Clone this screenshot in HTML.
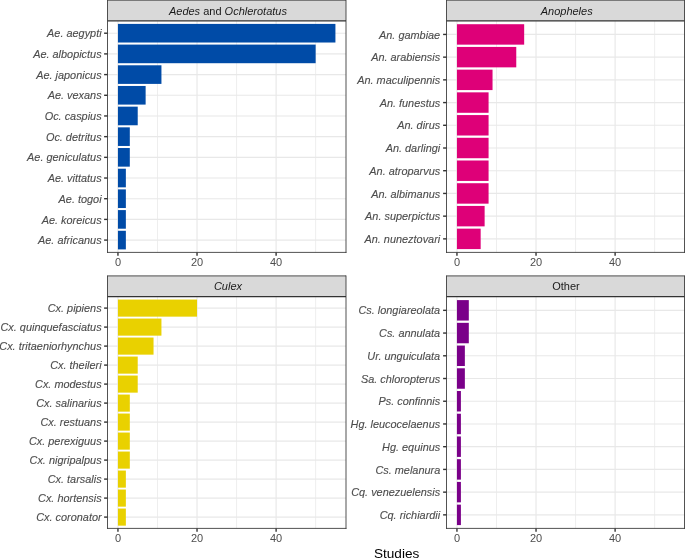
<!DOCTYPE html>
<html><head><meta charset="utf-8"><style>
html,body{margin:0;padding:0;background:#fff;overflow:hidden;}
text{stroke-width:0.12px;} svg{display:block;will-change:transform;font-family:"Liberation Sans",sans-serif;}
</style></head><body>
<svg width="685" height="558" viewBox="0 0 685 558">
<rect width="685" height="558" fill="#fff"/>
<line x1="157.49" y1="20.9" x2="157.49" y2="252.4" stroke="#E8E8E8" stroke-width="0.75"/>
<line x1="236.57" y1="20.9" x2="236.57" y2="252.4" stroke="#E8E8E8" stroke-width="0.75"/>
<line x1="315.65" y1="20.9" x2="315.65" y2="252.4" stroke="#E8E8E8" stroke-width="0.75"/>
<line x1="117.95" y1="20.9" x2="117.95" y2="252.4" stroke="#E8E8E8" stroke-width="1.15"/>
<line x1="197.03" y1="20.9" x2="197.03" y2="252.4" stroke="#E8E8E8" stroke-width="1.15"/>
<line x1="276.11" y1="20.9" x2="276.11" y2="252.4" stroke="#E8E8E8" stroke-width="1.15"/>
<line x1="107.5" y1="33.21" x2="346" y2="33.21" stroke="#E8E8E8" stroke-width="1.15"/>
<line x1="107.5" y1="53.9" x2="346" y2="53.9" stroke="#E8E8E8" stroke-width="1.15"/>
<line x1="107.5" y1="74.59" x2="346" y2="74.59" stroke="#E8E8E8" stroke-width="1.15"/>
<line x1="107.5" y1="95.28" x2="346" y2="95.28" stroke="#E8E8E8" stroke-width="1.15"/>
<line x1="107.5" y1="115.96" x2="346" y2="115.96" stroke="#E8E8E8" stroke-width="1.15"/>
<line x1="107.5" y1="136.65" x2="346" y2="136.65" stroke="#E8E8E8" stroke-width="1.15"/>
<line x1="107.5" y1="157.34" x2="346" y2="157.34" stroke="#E8E8E8" stroke-width="1.15"/>
<line x1="107.5" y1="178.03" x2="346" y2="178.03" stroke="#E8E8E8" stroke-width="1.15"/>
<line x1="107.5" y1="198.71" x2="346" y2="198.71" stroke="#E8E8E8" stroke-width="1.15"/>
<line x1="107.5" y1="219.4" x2="346" y2="219.4" stroke="#E8E8E8" stroke-width="1.15"/>
<line x1="107.5" y1="240.09" x2="346" y2="240.09" stroke="#E8E8E8" stroke-width="1.15"/>
<rect x="117.95" y="23.9" width="217.47" height="18.62" fill="#004BA7"/>
<rect x="117.95" y="44.59" width="197.7" height="18.62" fill="#004BA7"/>
<rect x="117.95" y="65.28" width="43.49" height="18.62" fill="#004BA7"/>
<rect x="117.95" y="85.97" width="27.68" height="18.62" fill="#004BA7"/>
<rect x="117.95" y="106.65" width="19.77" height="18.62" fill="#004BA7"/>
<rect x="117.95" y="127.34" width="11.86" height="18.62" fill="#004BA7"/>
<rect x="117.95" y="148.03" width="11.86" height="18.62" fill="#004BA7"/>
<rect x="117.95" y="168.72" width="7.91" height="18.62" fill="#004BA7"/>
<rect x="117.95" y="189.4" width="7.91" height="18.62" fill="#004BA7"/>
<rect x="117.95" y="210.09" width="7.91" height="18.62" fill="#004BA7"/>
<rect x="117.95" y="230.78" width="7.91" height="18.62" fill="#004BA7"/>
<rect x="107.5" y="0.2" width="238.5" height="20.7" fill="#D9D9D9"/>
<line x1="107.5" y1="0.2" x2="346" y2="0.2" stroke="#333333" stroke-width="0.85"/>
<line x1="107.5" y1="20.9" x2="346" y2="20.9" stroke="#333333" stroke-width="1.3"/>
<line x1="107.08" y1="252.4" x2="346.43" y2="252.4" stroke="#333333" stroke-width="0.85"/>
<line x1="107.5" y1="-0.22" x2="107.5" y2="252.83" stroke="#333333" stroke-width="0.85"/>
<line x1="346" y1="-0.22" x2="346" y2="252.83" stroke="#333333" stroke-width="0.85"/>
<text x="227.95" y="14.6" text-anchor="middle" fill="#1A1A1A" font-size="11"><tspan font-style="italic">Aedes</tspan> and <tspan font-style="italic">Ochlerotatus</tspan></text>
<line x1="104.1" y1="33.21" x2="107.5" y2="33.21" stroke="#333333" stroke-width="1.4"/>
<text x="101.6" y="37.36" text-anchor="end" fill="#4D4D4D" stroke="#4D4D4D" font-size="10.9" font-style="italic">Ae. aegypti</text>
<line x1="104.1" y1="53.9" x2="107.5" y2="53.9" stroke="#333333" stroke-width="1.4"/>
<text x="101.6" y="58.05" text-anchor="end" fill="#4D4D4D" stroke="#4D4D4D" font-size="10.9" font-style="italic">Ae. albopictus</text>
<line x1="104.1" y1="74.59" x2="107.5" y2="74.59" stroke="#333333" stroke-width="1.4"/>
<text x="101.6" y="78.74" text-anchor="end" fill="#4D4D4D" stroke="#4D4D4D" font-size="10.9" font-style="italic">Ae. japonicus</text>
<line x1="104.1" y1="95.28" x2="107.5" y2="95.28" stroke="#333333" stroke-width="1.4"/>
<text x="101.6" y="99.43" text-anchor="end" fill="#4D4D4D" stroke="#4D4D4D" font-size="10.9" font-style="italic">Ae. vexans</text>
<line x1="104.1" y1="115.96" x2="107.5" y2="115.96" stroke="#333333" stroke-width="1.4"/>
<text x="101.6" y="120.11" text-anchor="end" fill="#4D4D4D" stroke="#4D4D4D" font-size="10.9" font-style="italic">Oc. caspius</text>
<line x1="104.1" y1="136.65" x2="107.5" y2="136.65" stroke="#333333" stroke-width="1.4"/>
<text x="101.6" y="140.8" text-anchor="end" fill="#4D4D4D" stroke="#4D4D4D" font-size="10.9" font-style="italic">Oc. detritus</text>
<line x1="104.1" y1="157.34" x2="107.5" y2="157.34" stroke="#333333" stroke-width="1.4"/>
<text x="101.6" y="161.49" text-anchor="end" fill="#4D4D4D" stroke="#4D4D4D" font-size="10.9" font-style="italic">Ae. geniculatus</text>
<line x1="104.1" y1="178.03" x2="107.5" y2="178.03" stroke="#333333" stroke-width="1.4"/>
<text x="101.6" y="182.18" text-anchor="end" fill="#4D4D4D" stroke="#4D4D4D" font-size="10.9" font-style="italic">Ae. vittatus</text>
<line x1="104.1" y1="198.71" x2="107.5" y2="198.71" stroke="#333333" stroke-width="1.4"/>
<text x="101.6" y="202.86" text-anchor="end" fill="#4D4D4D" stroke="#4D4D4D" font-size="10.9" font-style="italic">Ae. togoi</text>
<line x1="104.1" y1="219.4" x2="107.5" y2="219.4" stroke="#333333" stroke-width="1.4"/>
<text x="101.6" y="223.55" text-anchor="end" fill="#4D4D4D" stroke="#4D4D4D" font-size="10.9" font-style="italic">Ae. koreicus</text>
<line x1="104.1" y1="240.09" x2="107.5" y2="240.09" stroke="#333333" stroke-width="1.4"/>
<text x="101.6" y="244.24" text-anchor="end" fill="#4D4D4D" stroke="#4D4D4D" font-size="10.9" font-style="italic">Ae. africanus</text>
<line x1="117.95" y1="252.4" x2="117.95" y2="255.8" stroke="#333333" stroke-width="1.4"/>
<text x="117.95" y="266.45" text-anchor="middle" fill="#4D4D4D" font-size="11">0</text>
<line x1="197.03" y1="252.4" x2="197.03" y2="255.8" stroke="#333333" stroke-width="1.4"/>
<text x="197.03" y="266.45" text-anchor="middle" fill="#4D4D4D" font-size="11">20</text>
<line x1="276.11" y1="252.4" x2="276.11" y2="255.8" stroke="#333333" stroke-width="1.4"/>
<text x="276.11" y="266.45" text-anchor="middle" fill="#4D4D4D" font-size="11">40</text>
<line x1="496.49" y1="20.9" x2="496.49" y2="252.4" stroke="#E8E8E8" stroke-width="0.75"/>
<line x1="575.57" y1="20.9" x2="575.57" y2="252.4" stroke="#E8E8E8" stroke-width="0.75"/>
<line x1="654.65" y1="20.9" x2="654.65" y2="252.4" stroke="#E8E8E8" stroke-width="0.75"/>
<line x1="456.95" y1="20.9" x2="456.95" y2="252.4" stroke="#E8E8E8" stroke-width="1.15"/>
<line x1="536.03" y1="20.9" x2="536.03" y2="252.4" stroke="#E8E8E8" stroke-width="1.15"/>
<line x1="615.11" y1="20.9" x2="615.11" y2="252.4" stroke="#E8E8E8" stroke-width="1.15"/>
<line x1="446.5" y1="34.43" x2="684.5" y2="34.43" stroke="#E8E8E8" stroke-width="1.15"/>
<line x1="446.5" y1="57.15" x2="684.5" y2="57.15" stroke="#E8E8E8" stroke-width="1.15"/>
<line x1="446.5" y1="79.86" x2="684.5" y2="79.86" stroke="#E8E8E8" stroke-width="1.15"/>
<line x1="446.5" y1="102.58" x2="684.5" y2="102.58" stroke="#E8E8E8" stroke-width="1.15"/>
<line x1="446.5" y1="125.29" x2="684.5" y2="125.29" stroke="#E8E8E8" stroke-width="1.15"/>
<line x1="446.5" y1="148.01" x2="684.5" y2="148.01" stroke="#E8E8E8" stroke-width="1.15"/>
<line x1="446.5" y1="170.72" x2="684.5" y2="170.72" stroke="#E8E8E8" stroke-width="1.15"/>
<line x1="446.5" y1="193.44" x2="684.5" y2="193.44" stroke="#E8E8E8" stroke-width="1.15"/>
<line x1="446.5" y1="216.15" x2="684.5" y2="216.15" stroke="#E8E8E8" stroke-width="1.15"/>
<line x1="446.5" y1="238.87" x2="684.5" y2="238.87" stroke="#E8E8E8" stroke-width="1.15"/>
<rect x="456.95" y="24.21" width="67.22" height="20.44" fill="#DE0078"/>
<rect x="456.95" y="46.92" width="59.31" height="20.44" fill="#DE0078"/>
<rect x="456.95" y="69.64" width="35.59" height="20.44" fill="#DE0078"/>
<rect x="456.95" y="92.35" width="31.63" height="20.44" fill="#DE0078"/>
<rect x="456.95" y="115.07" width="31.63" height="20.44" fill="#DE0078"/>
<rect x="456.95" y="137.79" width="31.63" height="20.44" fill="#DE0078"/>
<rect x="456.95" y="160.5" width="31.63" height="20.44" fill="#DE0078"/>
<rect x="456.95" y="183.22" width="31.63" height="20.44" fill="#DE0078"/>
<rect x="456.95" y="205.93" width="27.68" height="20.44" fill="#DE0078"/>
<rect x="456.95" y="228.65" width="23.72" height="20.44" fill="#DE0078"/>
<rect x="446.5" y="0.2" width="238" height="20.7" fill="#D9D9D9"/>
<line x1="446.5" y1="0.2" x2="684.5" y2="0.2" stroke="#333333" stroke-width="0.85"/>
<line x1="446.5" y1="20.9" x2="684.5" y2="20.9" stroke="#333333" stroke-width="1.3"/>
<line x1="446.07" y1="252.4" x2="684.92" y2="252.4" stroke="#333333" stroke-width="0.85"/>
<line x1="446.5" y1="-0.22" x2="446.5" y2="252.83" stroke="#333333" stroke-width="0.85"/>
<line x1="684.5" y1="-0.22" x2="684.5" y2="252.83" stroke="#333333" stroke-width="0.85"/>
<text x="566.7" y="14.6" text-anchor="middle" fill="#1A1A1A" font-size="11"><tspan font-style="italic">Anopheles</tspan></text>
<line x1="443.1" y1="34.43" x2="446.5" y2="34.43" stroke="#333333" stroke-width="1.4"/>
<text x="440.2" y="38.58" text-anchor="end" fill="#4D4D4D" stroke="#4D4D4D" font-size="10.9" font-style="italic">An. gambiae</text>
<line x1="443.1" y1="57.15" x2="446.5" y2="57.15" stroke="#333333" stroke-width="1.4"/>
<text x="440.2" y="61.3" text-anchor="end" fill="#4D4D4D" stroke="#4D4D4D" font-size="10.9" font-style="italic">An. arabiensis</text>
<line x1="443.1" y1="79.86" x2="446.5" y2="79.86" stroke="#333333" stroke-width="1.4"/>
<text x="440.2" y="84.01" text-anchor="end" fill="#4D4D4D" stroke="#4D4D4D" font-size="10.9" font-style="italic">An. maculipennis</text>
<line x1="443.1" y1="102.58" x2="446.5" y2="102.58" stroke="#333333" stroke-width="1.4"/>
<text x="440.2" y="106.73" text-anchor="end" fill="#4D4D4D" stroke="#4D4D4D" font-size="10.9" font-style="italic">An. funestus</text>
<line x1="443.1" y1="125.29" x2="446.5" y2="125.29" stroke="#333333" stroke-width="1.4"/>
<text x="440.2" y="129.44" text-anchor="end" fill="#4D4D4D" stroke="#4D4D4D" font-size="10.9" font-style="italic">An. dirus</text>
<line x1="443.1" y1="148.01" x2="446.5" y2="148.01" stroke="#333333" stroke-width="1.4"/>
<text x="440.2" y="152.16" text-anchor="end" fill="#4D4D4D" stroke="#4D4D4D" font-size="10.9" font-style="italic">An. darlingi</text>
<line x1="443.1" y1="170.72" x2="446.5" y2="170.72" stroke="#333333" stroke-width="1.4"/>
<text x="440.2" y="174.87" text-anchor="end" fill="#4D4D4D" stroke="#4D4D4D" font-size="10.9" font-style="italic">An. atroparvus</text>
<line x1="443.1" y1="193.44" x2="446.5" y2="193.44" stroke="#333333" stroke-width="1.4"/>
<text x="440.2" y="197.59" text-anchor="end" fill="#4D4D4D" stroke="#4D4D4D" font-size="10.9" font-style="italic">An. albimanus</text>
<line x1="443.1" y1="216.15" x2="446.5" y2="216.15" stroke="#333333" stroke-width="1.4"/>
<text x="440.2" y="220.3" text-anchor="end" fill="#4D4D4D" stroke="#4D4D4D" font-size="10.9" font-style="italic">An. superpictus</text>
<line x1="443.1" y1="238.87" x2="446.5" y2="238.87" stroke="#333333" stroke-width="1.4"/>
<text x="440.2" y="243.02" text-anchor="end" fill="#4D4D4D" stroke="#4D4D4D" font-size="10.9" font-style="italic">An. nuneztovari</text>
<line x1="456.95" y1="252.4" x2="456.95" y2="255.8" stroke="#333333" stroke-width="1.4"/>
<text x="456.95" y="266.45" text-anchor="middle" fill="#4D4D4D" font-size="11">0</text>
<line x1="536.03" y1="252.4" x2="536.03" y2="255.8" stroke="#333333" stroke-width="1.4"/>
<text x="536.03" y="266.45" text-anchor="middle" fill="#4D4D4D" font-size="11">20</text>
<line x1="615.11" y1="252.4" x2="615.11" y2="255.8" stroke="#333333" stroke-width="1.4"/>
<text x="615.11" y="266.45" text-anchor="middle" fill="#4D4D4D" font-size="11">40</text>
<line x1="157.49" y1="296.7" x2="157.49" y2="528.4" stroke="#E8E8E8" stroke-width="0.75"/>
<line x1="236.57" y1="296.7" x2="236.57" y2="528.4" stroke="#E8E8E8" stroke-width="0.75"/>
<line x1="315.65" y1="296.7" x2="315.65" y2="528.4" stroke="#E8E8E8" stroke-width="0.75"/>
<line x1="117.95" y1="296.7" x2="117.95" y2="528.4" stroke="#E8E8E8" stroke-width="1.15"/>
<line x1="197.03" y1="296.7" x2="197.03" y2="528.4" stroke="#E8E8E8" stroke-width="1.15"/>
<line x1="276.11" y1="296.7" x2="276.11" y2="528.4" stroke="#E8E8E8" stroke-width="1.15"/>
<line x1="107.5" y1="308.1" x2="346" y2="308.1" stroke="#E8E8E8" stroke-width="1.15"/>
<line x1="107.5" y1="327.1" x2="346" y2="327.1" stroke="#E8E8E8" stroke-width="1.15"/>
<line x1="107.5" y1="346.1" x2="346" y2="346.1" stroke="#E8E8E8" stroke-width="1.15"/>
<line x1="107.5" y1="365.1" x2="346" y2="365.1" stroke="#E8E8E8" stroke-width="1.15"/>
<line x1="107.5" y1="384.1" x2="346" y2="384.1" stroke="#E8E8E8" stroke-width="1.15"/>
<line x1="107.5" y1="403.1" x2="346" y2="403.1" stroke="#E8E8E8" stroke-width="1.15"/>
<line x1="107.5" y1="422.1" x2="346" y2="422.1" stroke="#E8E8E8" stroke-width="1.15"/>
<line x1="107.5" y1="441.1" x2="346" y2="441.1" stroke="#E8E8E8" stroke-width="1.15"/>
<line x1="107.5" y1="460.1" x2="346" y2="460.1" stroke="#E8E8E8" stroke-width="1.15"/>
<line x1="107.5" y1="479.1" x2="346" y2="479.1" stroke="#E8E8E8" stroke-width="1.15"/>
<line x1="107.5" y1="498.1" x2="346" y2="498.1" stroke="#E8E8E8" stroke-width="1.15"/>
<line x1="107.5" y1="517.1" x2="346" y2="517.1" stroke="#E8E8E8" stroke-width="1.15"/>
<rect x="117.95" y="299.55" width="79.08" height="17.1" fill="#E9D100"/>
<rect x="117.95" y="318.55" width="43.49" height="17.1" fill="#E9D100"/>
<rect x="117.95" y="337.55" width="35.59" height="17.1" fill="#E9D100"/>
<rect x="117.95" y="356.55" width="19.77" height="17.1" fill="#E9D100"/>
<rect x="117.95" y="375.55" width="19.77" height="17.1" fill="#E9D100"/>
<rect x="117.95" y="394.55" width="11.86" height="17.1" fill="#E9D100"/>
<rect x="117.95" y="413.55" width="11.86" height="17.1" fill="#E9D100"/>
<rect x="117.95" y="432.55" width="11.86" height="17.1" fill="#E9D100"/>
<rect x="117.95" y="451.55" width="11.86" height="17.1" fill="#E9D100"/>
<rect x="117.95" y="470.55" width="7.91" height="17.1" fill="#E9D100"/>
<rect x="117.95" y="489.55" width="7.91" height="17.1" fill="#E9D100"/>
<rect x="117.95" y="508.55" width="7.91" height="17.1" fill="#E9D100"/>
<rect x="107.5" y="275.9" width="238.5" height="20.8" fill="#D9D9D9"/>
<line x1="107.5" y1="275.9" x2="346" y2="275.9" stroke="#333333" stroke-width="0.85"/>
<line x1="107.5" y1="296.7" x2="346" y2="296.7" stroke="#333333" stroke-width="1.3"/>
<line x1="107.08" y1="528.4" x2="346.43" y2="528.4" stroke="#333333" stroke-width="0.85"/>
<line x1="107.5" y1="275.47" x2="107.5" y2="528.82" stroke="#333333" stroke-width="0.85"/>
<line x1="346" y1="275.47" x2="346" y2="528.82" stroke="#333333" stroke-width="0.85"/>
<text x="227.95" y="290.1" text-anchor="middle" fill="#1A1A1A" font-size="11"><tspan font-style="italic">Culex</tspan></text>
<line x1="104.1" y1="308.1" x2="107.5" y2="308.1" stroke="#333333" stroke-width="1.4"/>
<text x="101.6" y="312.25" text-anchor="end" fill="#4D4D4D" stroke="#4D4D4D" font-size="10.9" font-style="italic">Cx. pipiens</text>
<line x1="104.1" y1="327.1" x2="107.5" y2="327.1" stroke="#333333" stroke-width="1.4"/>
<text x="101.6" y="331.25" text-anchor="end" fill="#4D4D4D" stroke="#4D4D4D" font-size="10.9" font-style="italic">Cx. quinquefasciatus</text>
<line x1="104.1" y1="346.1" x2="107.5" y2="346.1" stroke="#333333" stroke-width="1.4"/>
<text x="101.6" y="350.25" text-anchor="end" fill="#4D4D4D" stroke="#4D4D4D" font-size="10.9" font-style="italic">Cx. tritaeniorhynchus</text>
<line x1="104.1" y1="365.1" x2="107.5" y2="365.1" stroke="#333333" stroke-width="1.4"/>
<text x="101.6" y="369.25" text-anchor="end" fill="#4D4D4D" stroke="#4D4D4D" font-size="10.9" font-style="italic">Cx. theileri</text>
<line x1="104.1" y1="384.1" x2="107.5" y2="384.1" stroke="#333333" stroke-width="1.4"/>
<text x="101.6" y="388.25" text-anchor="end" fill="#4D4D4D" stroke="#4D4D4D" font-size="10.9" font-style="italic">Cx. modestus</text>
<line x1="104.1" y1="403.1" x2="107.5" y2="403.1" stroke="#333333" stroke-width="1.4"/>
<text x="101.6" y="407.25" text-anchor="end" fill="#4D4D4D" stroke="#4D4D4D" font-size="10.9" font-style="italic">Cx. salinarius</text>
<line x1="104.1" y1="422.1" x2="107.5" y2="422.1" stroke="#333333" stroke-width="1.4"/>
<text x="101.6" y="426.25" text-anchor="end" fill="#4D4D4D" stroke="#4D4D4D" font-size="10.9" font-style="italic">Cx. restuans</text>
<line x1="104.1" y1="441.1" x2="107.5" y2="441.1" stroke="#333333" stroke-width="1.4"/>
<text x="101.6" y="445.25" text-anchor="end" fill="#4D4D4D" stroke="#4D4D4D" font-size="10.9" font-style="italic">Cx. perexiguus</text>
<line x1="104.1" y1="460.1" x2="107.5" y2="460.1" stroke="#333333" stroke-width="1.4"/>
<text x="101.6" y="464.25" text-anchor="end" fill="#4D4D4D" stroke="#4D4D4D" font-size="10.9" font-style="italic">Cx. nigripalpus</text>
<line x1="104.1" y1="479.1" x2="107.5" y2="479.1" stroke="#333333" stroke-width="1.4"/>
<text x="101.6" y="483.25" text-anchor="end" fill="#4D4D4D" stroke="#4D4D4D" font-size="10.9" font-style="italic">Cx. tarsalis</text>
<line x1="104.1" y1="498.1" x2="107.5" y2="498.1" stroke="#333333" stroke-width="1.4"/>
<text x="101.6" y="502.25" text-anchor="end" fill="#4D4D4D" stroke="#4D4D4D" font-size="10.9" font-style="italic">Cx. hortensis</text>
<line x1="104.1" y1="517.1" x2="107.5" y2="517.1" stroke="#333333" stroke-width="1.4"/>
<text x="101.6" y="521.25" text-anchor="end" fill="#4D4D4D" stroke="#4D4D4D" font-size="10.9" font-style="italic">Cx. coronator</text>
<line x1="117.95" y1="528.4" x2="117.95" y2="531.8" stroke="#333333" stroke-width="1.4"/>
<text x="117.95" y="542.1" text-anchor="middle" fill="#4D4D4D" font-size="11">0</text>
<line x1="197.03" y1="528.4" x2="197.03" y2="531.8" stroke="#333333" stroke-width="1.4"/>
<text x="197.03" y="542.1" text-anchor="middle" fill="#4D4D4D" font-size="11">20</text>
<line x1="276.11" y1="528.4" x2="276.11" y2="531.8" stroke="#333333" stroke-width="1.4"/>
<text x="276.11" y="542.1" text-anchor="middle" fill="#4D4D4D" font-size="11">40</text>
<line x1="496.49" y1="296.7" x2="496.49" y2="528.4" stroke="#E8E8E8" stroke-width="0.75"/>
<line x1="575.57" y1="296.7" x2="575.57" y2="528.4" stroke="#E8E8E8" stroke-width="0.75"/>
<line x1="654.65" y1="296.7" x2="654.65" y2="528.4" stroke="#E8E8E8" stroke-width="0.75"/>
<line x1="456.95" y1="296.7" x2="456.95" y2="528.4" stroke="#E8E8E8" stroke-width="1.15"/>
<line x1="536.03" y1="296.7" x2="536.03" y2="528.4" stroke="#E8E8E8" stroke-width="1.15"/>
<line x1="615.11" y1="296.7" x2="615.11" y2="528.4" stroke="#E8E8E8" stroke-width="1.15"/>
<line x1="446.5" y1="310.34" x2="684.5" y2="310.34" stroke="#E8E8E8" stroke-width="1.15"/>
<line x1="446.5" y1="333.06" x2="684.5" y2="333.06" stroke="#E8E8E8" stroke-width="1.15"/>
<line x1="446.5" y1="355.79" x2="684.5" y2="355.79" stroke="#E8E8E8" stroke-width="1.15"/>
<line x1="446.5" y1="378.51" x2="684.5" y2="378.51" stroke="#E8E8E8" stroke-width="1.15"/>
<line x1="446.5" y1="401.24" x2="684.5" y2="401.24" stroke="#E8E8E8" stroke-width="1.15"/>
<line x1="446.5" y1="423.96" x2="684.5" y2="423.96" stroke="#E8E8E8" stroke-width="1.15"/>
<line x1="446.5" y1="446.69" x2="684.5" y2="446.69" stroke="#E8E8E8" stroke-width="1.15"/>
<line x1="446.5" y1="469.41" x2="684.5" y2="469.41" stroke="#E8E8E8" stroke-width="1.15"/>
<line x1="446.5" y1="492.14" x2="684.5" y2="492.14" stroke="#E8E8E8" stroke-width="1.15"/>
<line x1="446.5" y1="514.86" x2="684.5" y2="514.86" stroke="#E8E8E8" stroke-width="1.15"/>
<rect x="456.95" y="300.11" width="11.86" height="20.45" fill="#7A0089"/>
<rect x="456.95" y="322.83" width="11.86" height="20.45" fill="#7A0089"/>
<rect x="456.95" y="345.56" width="7.91" height="20.45" fill="#7A0089"/>
<rect x="456.95" y="368.29" width="7.91" height="20.45" fill="#7A0089"/>
<rect x="456.95" y="391.01" width="3.95" height="20.45" fill="#7A0089"/>
<rect x="456.95" y="413.74" width="3.95" height="20.45" fill="#7A0089"/>
<rect x="456.95" y="436.46" width="3.95" height="20.45" fill="#7A0089"/>
<rect x="456.95" y="459.19" width="3.95" height="20.45" fill="#7A0089"/>
<rect x="456.95" y="481.91" width="3.95" height="20.45" fill="#7A0089"/>
<rect x="456.95" y="504.64" width="3.95" height="20.45" fill="#7A0089"/>
<rect x="446.5" y="275.9" width="238" height="20.8" fill="#D9D9D9"/>
<line x1="446.5" y1="275.9" x2="684.5" y2="275.9" stroke="#333333" stroke-width="0.85"/>
<line x1="446.5" y1="296.7" x2="684.5" y2="296.7" stroke="#333333" stroke-width="1.3"/>
<line x1="446.07" y1="528.4" x2="684.92" y2="528.4" stroke="#333333" stroke-width="0.85"/>
<line x1="446.5" y1="275.47" x2="446.5" y2="528.82" stroke="#333333" stroke-width="0.85"/>
<line x1="684.5" y1="275.47" x2="684.5" y2="528.82" stroke="#333333" stroke-width="0.85"/>
<text x="566" y="290.1" text-anchor="middle" fill="#1A1A1A" font-size="11">Other</text>
<line x1="443.1" y1="310.34" x2="446.5" y2="310.34" stroke="#333333" stroke-width="1.4"/>
<text x="440.2" y="314.49" text-anchor="end" fill="#4D4D4D" stroke="#4D4D4D" font-size="10.9" font-style="italic">Cs. longiareolata</text>
<line x1="443.1" y1="333.06" x2="446.5" y2="333.06" stroke="#333333" stroke-width="1.4"/>
<text x="440.2" y="337.21" text-anchor="end" fill="#4D4D4D" stroke="#4D4D4D" font-size="10.9" font-style="italic">Cs. annulata</text>
<line x1="443.1" y1="355.79" x2="446.5" y2="355.79" stroke="#333333" stroke-width="1.4"/>
<text x="440.2" y="359.94" text-anchor="end" fill="#4D4D4D" stroke="#4D4D4D" font-size="10.9" font-style="italic">Ur. unguiculata</text>
<line x1="443.1" y1="378.51" x2="446.5" y2="378.51" stroke="#333333" stroke-width="1.4"/>
<text x="440.2" y="382.66" text-anchor="end" fill="#4D4D4D" stroke="#4D4D4D" font-size="10.9" font-style="italic">Sa. chloropterus</text>
<line x1="443.1" y1="401.24" x2="446.5" y2="401.24" stroke="#333333" stroke-width="1.4"/>
<text x="440.2" y="405.39" text-anchor="end" fill="#4D4D4D" stroke="#4D4D4D" font-size="10.9" font-style="italic">Ps. confinnis</text>
<line x1="443.1" y1="423.96" x2="446.5" y2="423.96" stroke="#333333" stroke-width="1.4"/>
<text x="440.2" y="428.11" text-anchor="end" fill="#4D4D4D" stroke="#4D4D4D" font-size="10.9" font-style="italic">Hg. leucocelaenus</text>
<line x1="443.1" y1="446.69" x2="446.5" y2="446.69" stroke="#333333" stroke-width="1.4"/>
<text x="440.2" y="450.84" text-anchor="end" fill="#4D4D4D" stroke="#4D4D4D" font-size="10.9" font-style="italic">Hg. equinus</text>
<line x1="443.1" y1="469.41" x2="446.5" y2="469.41" stroke="#333333" stroke-width="1.4"/>
<text x="440.2" y="473.56" text-anchor="end" fill="#4D4D4D" stroke="#4D4D4D" font-size="10.9" font-style="italic">Cs. melanura</text>
<line x1="443.1" y1="492.14" x2="446.5" y2="492.14" stroke="#333333" stroke-width="1.4"/>
<text x="440.2" y="496.29" text-anchor="end" fill="#4D4D4D" stroke="#4D4D4D" font-size="10.9" font-style="italic">Cq. venezuelensis</text>
<line x1="443.1" y1="514.86" x2="446.5" y2="514.86" stroke="#333333" stroke-width="1.4"/>
<text x="440.2" y="519.01" text-anchor="end" fill="#4D4D4D" stroke="#4D4D4D" font-size="10.9" font-style="italic">Cq. richiardii</text>
<line x1="456.95" y1="528.4" x2="456.95" y2="531.8" stroke="#333333" stroke-width="1.4"/>
<text x="456.95" y="542.1" text-anchor="middle" fill="#4D4D4D" font-size="11">0</text>
<line x1="536.03" y1="528.4" x2="536.03" y2="531.8" stroke="#333333" stroke-width="1.4"/>
<text x="536.03" y="542.1" text-anchor="middle" fill="#4D4D4D" font-size="11">20</text>
<line x1="615.11" y1="528.4" x2="615.11" y2="531.8" stroke="#333333" stroke-width="1.4"/>
<text x="615.11" y="542.1" text-anchor="middle" fill="#4D4D4D" font-size="11">40</text>
<text x="396.6" y="557.5" text-anchor="middle" fill="#000" font-size="13.6">Studies</text>
</svg>
</body></html>
